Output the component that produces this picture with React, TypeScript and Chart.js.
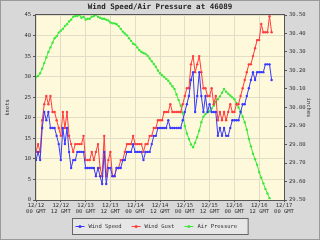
import React, { useEffect, useRef } from "react";
import { Chart, registerables } from "chart.js";

Chart.register(...registerables);

const TITLE = "Wind Speed/Air Pressure at 46089";

// Axis tick labels, one every 12 hours from 12/12 00 GMT to 12/17 00 GMT
const dayLabels = ["12/12", "12/12", "12/13", "12/13", "12/14", "12/14", "12/15", "12/15", "12/16", "12/16", "12/17"];
const timeLabels = ["00 GMT", "12 GMT", "00 GMT", "12 GMT", "00 GMT", "12 GMT", "00 GMT", "12 GMT", "00 GMT", "12 GMT", "00 GMT"];

// Hourly observations starting 12/12 00 GMT (knots)
const windSpeed = [
  9.7, 11.7, 9.7, 17.5, 21.4, 19.4, 21.4, 17.5, 17.5, 17.5,
  15.6, 13.6, 9.7, 17.5, 13.6, 17.5, 11.7, 7.8, 9.7, 9.7,
  11.7, 11.7, 11.7, 11.7, 7.8, 7.8, 7.8, 7.8, 7.8, 5.8,
  7.8, 5.8, 3.9, 11.7, 3.9, 7.8, 7.8, 5.8, 5.8, 7.8,
  7.8, 7.8, 9.7, 9.7, 11.7, 11.7, 11.7, 13.6, 11.7, 11.7,
  11.7, 11.7, 9.7, 11.7, 11.7, 11.7, 13.6, 15.6, 15.6, 17.5,
  17.5, 17.5, 17.5, 17.5, 19.4, 17.5, 17.5, 17.5, 17.5, 17.5,
  17.5, 19.4, 21.4, 23.3, 25.3, 29.2, 31.1, 21.4, 25.3, 31.1,
  25.3, 21.4, 25.3, 21.4, 23.3, 21.4, 21.4, 21.4, 15.6, 17.5,
  15.6, 17.5, 15.6, 15.6, 17.5, 19.4, 19.4, 19.4, 19.4, 21.4,
  23.3, 23.3, 25.3, 27.2, 29.2, 31.1, 29.2, 31.1, 31.1, 31.1,
  31.1, 33.0, 33.0, 33.0, 29.2,
];

const windGust = [
  11.7, 13.6, 11.7, 19.4, 23.3, 25.3, 23.3, 25.3, 21.4, 21.4,
  19.4, 17.5, 15.6, 21.4, 17.5, 21.4, 15.6, 13.6, 11.7, 13.6,
  13.6, 13.6, 13.6, 15.6, 9.7, 9.7, 9.7, 11.7, 9.7, 11.7,
  13.6, 7.8, 5.8, 15.6, 5.8, 9.7, 11.7, 5.8, 5.8, 7.8,
  7.8, 9.7, 9.7, 11.7, 13.6, 13.6, 13.6, 15.6, 13.6, 13.6,
  13.6, 13.6, 11.7, 13.6, 13.6, 15.6, 15.6, 17.5, 17.5, 19.4,
  19.4, 19.4, 21.4, 21.4, 21.4, 23.3, 21.4, 21.4, 21.4, 21.4,
  21.4, 23.3, 25.3, 27.2, 27.2, 33.0, 35.0, 31.1, 33.0, 35.0,
  31.1, 27.2, 27.2, 25.3, 25.3, 27.2, 23.3, 25.3, 19.4, 21.4,
  19.4, 21.4, 19.4, 21.4, 23.3, 21.4, 21.4, 23.3, 23.3, 25.3,
  27.2, 29.2, 31.1, 33.0, 33.0, 35.0, 36.9, 38.9, 38.9, 42.8,
  40.8, 40.8, 40.8, 44.7, 40.8,
];

// Hourly air pressure (inches)
const airPressure = [
  30.165, 30.17, 30.185, 30.21, 30.24, 30.27, 30.3, 30.325, 30.35, 30.375,
  30.385, 30.405, 30.415, 30.425, 30.44, 30.45, 30.465, 30.475, 30.49, 30.495,
  30.495, 30.5, 30.485, 30.49, 30.475, 30.48, 30.48, 30.49, 30.495, 30.5,
  30.49, 30.485, 30.48, 30.48, 30.475, 30.47, 30.46, 30.455, 30.455, 30.45,
  30.44, 30.425, 30.41, 30.4, 30.39, 30.375, 30.36, 30.345, 30.34, 30.325,
  30.31, 30.3, 30.295, 30.29, 30.28, 30.265, 30.25, 30.235, 30.22, 30.2,
  30.185, 30.175, 30.165, 30.155, 30.145, 30.13, 30.115, 30.1, 30.07, 30.04,
  30.01, 29.97, 29.9, 29.86, 29.83, 29.8, 29.785, 29.81, 29.84, 29.875,
  29.92, 29.95, 29.965, 29.975, 29.98, 29.995, 30.01, 30.03, 30.045, 30.06,
  30.08, 30.1, 30.085, 30.075, 30.065, 30.055, 30.045, 30.025, 30.0, 29.98,
  29.95, 29.92, 29.88, 29.83, 29.79, 29.75, 29.72, 29.69, 29.65, 29.62,
  29.59, 29.56, 29.535, 29.51,
];

const BLUE = "#3838ff";
const RED = "#ff3c3c";
const GREEN = "#3ce83c";
const FONT = "'DejaVu Sans Mono', monospace";
const TEXT = "#333333";

const hourly = (values: number[]) => values.map((y, x) => ({ x, y }));

const decorPlugin = {
  id: "decor",
  beforeDraw(chart: any) {
    const { ctx, width, height, chartArea: a } = chart;
    ctx.save();
    ctx.fillStyle = "#d8d8d8";
    ctx.fillRect(0, 0, width, height);
    ctx.strokeStyle = "#9a9a9a";
    ctx.lineWidth = 1;
    ctx.strokeRect(0.5, 0.5, width - 1, height - 1);
    ctx.fillStyle = "#fff9dc";
    ctx.fillRect(a.left, a.top, a.right - a.left, a.bottom - a.top);
    ctx.restore();
  },
  afterDraw(chart: any) {
    const { ctx, width, chartArea: a } = chart;
    ctx.save();
    // plot frame
    ctx.strokeStyle = "#555555";
    ctx.lineWidth = 1;
    ctx.strokeRect(Math.round(a.left) - 0.5, Math.round(a.top) - 0.5, Math.round(a.right - a.left) + 1, Math.round(a.bottom - a.top) + 1);

    // title
    ctx.fillStyle = "#222222";
    ctx.font = `bold 7.5px ${FONT}`;
    ctx.textAlign = "center";
    ctx.textBaseline = "middle";
    ctx.fillText(TITLE, width / 2, 7);

    // legend box
    ctx.font = `5.5px ${FONT}`;
    ctx.textAlign = "left";
    const items = chart.data.datasets.map((d: any) => ({ label: d.label, color: d.borderColor }));
    const marker = 9;
    const gapText = 4;
    const gapItem = 10;
    let total = 0;
    items.forEach((it: any, i: number) => {
      total += marker + gapText + ctx.measureText(it.label).width + (i < items.length - 1 ? gapItem : 0);
    });
    const padL = 3;
    const padR = 11;
    const boxW = total + padL + padR;
    const boxX = Math.round(width / 2 - boxW / 2) + 0.5;
    const boxY = 218.5;
    const boxH = 16;
    ctx.fillStyle = "#e6e6e6";
    ctx.fillRect(boxX, boxY, boxW, boxH);
    ctx.strokeStyle = "#666666";
    ctx.strokeRect(boxX, boxY, boxW, boxH);
    let x = boxX + padL;
    const cy = boxY + boxH / 2;
    items.forEach((it: any) => {
      ctx.strokeStyle = it.color;
      ctx.fillStyle = it.color;
      ctx.beginPath();
      ctx.moveTo(x, cy);
      ctx.lineTo(x + marker, cy);
      ctx.stroke();
      ctx.beginPath();
      ctx.arc(x + marker / 2, cy, 1.5, 0, Math.PI * 2);
      ctx.fill();
      x += marker + gapText;
      ctx.fillStyle = TEXT;
      ctx.fillText(it.label, x, cy + 0.5);
      x += ctx.measureText(it.label).width + gapItem;
    });
    ctx.restore();
  },
};

export default function App() {
  const ref = useRef<HTMLCanvasElement | null>(null);

  useEffect(() => {
    document.body.style.margin = "0";
    const canvas = ref.current;
    if (!canvas) return;
    const tickFont = { family: FONT, size: 5.5, lineHeight: 1.2 };
    const line = (label: string, color: string, data: number[], axis: string) => ({
      label,
      data: hourly(data),
      borderColor: color,
      backgroundColor: color,
      borderWidth: 1,
      pointRadius: 1.2,
      pointBorderWidth: 0,
      pointHoverRadius: 1.2,
      tension: 0,
      yAxisID: axis,
    });
    const chart = new Chart(canvas, {
      type: "line",
      data: {
        datasets: [
          line("Wind Speed", BLUE, windSpeed, "y"),
          line("Wind Gust", RED, windGust, "y"),
          line("Air Pressure", GREEN, airPressure, "y1"),
        ],
      },
      options: {
        responsive: false,
        animation: false,
        events: [],
        layout: { padding: { top: 15, left: 0, right: 0, bottom: 0 } },
        plugins: {
          legend: { display: false },
          title: { display: false },
          tooltip: { enabled: false },
        },
        scales: {
          x: {
            type: "linear",
            min: 0,
            max: 120,
            border: { display: false },
            grid: { color: "#e2ddc6", tickColor: "#555555", tickLength: 2 },
            ticks: {
              stepSize: 12,
              autoSkip: false,
              maxRotation: 0,
              padding: 0,
              color: TEXT,
              font: tickFont,
              callback: (v: any) => {
                const i = Math.round(Number(v) / 12);
                return [dayLabels[i], timeLabels[i]];
              },
            },
            afterFit: (s: any) => {
              s.height = 40;
            },
          },
          y: {
            position: "left",
            min: 0,
            max: 45,
            border: { display: false },
            grid: { color: "#e2ddc6", tickColor: "#555555", tickLength: 3 },
            ticks: { stepSize: 5, padding: 2, color: TEXT, font: tickFont },
            title: { display: true, text: "knots", color: TEXT, font: tickFont, padding: { top: 4, bottom: 0 } },
            afterFit: (s: any) => {
              s.width = 36;
            },
          },
          y1: {
            position: "right",
            min: 29.5,
            max: 30.5,
            border: { display: false },
            grid: { drawOnChartArea: false, tickColor: "#555555", tickLength: 3 },
            ticks: {
              stepSize: 0.1,
              padding: 2,
              color: TEXT,
              font: tickFont,
              callback: (v: any) => Number(v).toFixed(2),
            },
            title: { display: true, text: "inches", color: TEXT, font: tickFont, padding: { top: 8.7, bottom: 0 } },
            afterFit: (s: any) => {
              s.width = 36;
            },
          },
        },
      },
      plugins: [decorPlugin],
    });
    return () => chart.destroy();
  }, []);

  return <canvas ref={ref} width={320} height={240} style={{ display: "block" }} />;
}
